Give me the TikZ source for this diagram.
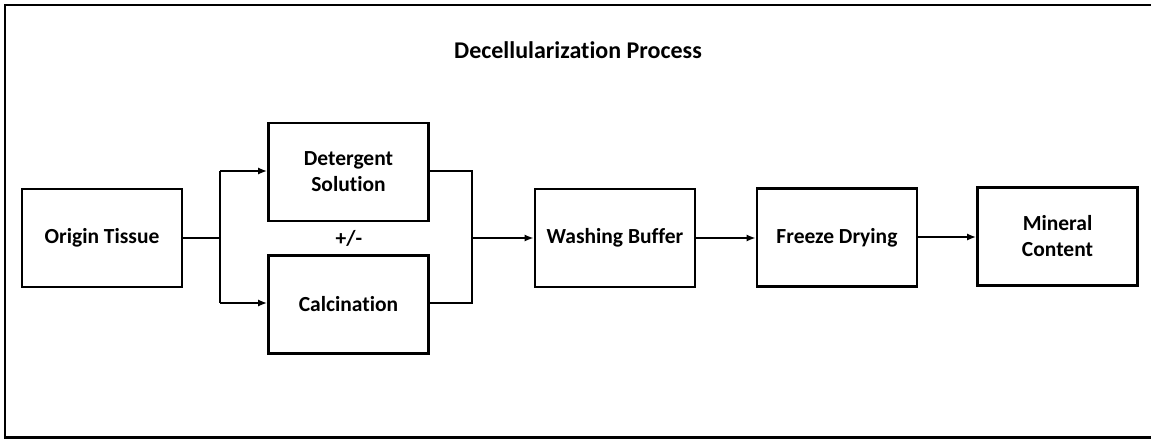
\documentclass[tikz,border=0pt]{standalone}
\usepackage{fontspec}
\setmainfont{Carlito}[Ligatures=NoCommon]
\usetikzlibrary{arrows.meta}
\begin{document}
\begin{tikzpicture}[x=1pt,y=-1pt,
  stage/.style={draw, line width=2.6pt, minimum width=160pt, minimum height=98pt,
    align=center, font=\fontsize{21.5}{26}\selectfont\bfseries, inner sep=0pt},
  link/.style={line width=2.3pt},
  flow/.style={line width=2.3pt, -{Latex[length=9pt,width=7pt]}}]
\useasboundingbox (0,0) rectangle (1151,440);
% outer frame, open on the right where the page ends
\draw[line width=2.4pt] (1151,5) -- (5,5) -- (5,437.5) -- (1151,437.5);
\node[font=\fontsize{24}{28}\selectfont\bfseries] (title) at (578,50) {Decellularization Process};
\node[stage] (origin) at (102,238) {Origin Tissue};
\node[stage] (deter) at (348.5,172) {Detergent\\Solution};
\node[stage] (calc) at (348.5,304.5) {Calcination};
\node[stage] (wash) at (615,238) {Washing Buffer};
\node[stage] (freeze) at (837,237.5) {Freeze Drying};
\node[stage] (mineral) at (1057.5,236.5) {Mineral\\Content};
\node[font=\fontsize{21.5}{26}\selectfont\bfseries] (pm) at (349,238) {+/-};
% split into the two parallel treatments
\coordinate (split) at (220,238);
\coordinate (splitT) at (220,171);
\coordinate (splitB) at (220,303);
\draw[link] (origin.east |- split) -- (split);
\draw[link] (splitT) -- (splitB);
\draw[flow] (splitT) -- (splitT -| deter.west);
\draw[flow] (splitB) -- (splitB -| calc.west);
% merge back into one stream
\coordinate (mergeT) at (472,171);
\coordinate (mergeB) at (472,303);
\coordinate (merge) at (472,238);
\draw[link] (mergeT -| deter.east) -- (mergeT) -- (mergeB) -- (mergeB -| calc.east);
\draw[flow] (merge) -- (merge -| wash.west);
\draw[flow] (wash.east |- 0,238) -- (freeze.west |- 0,238);
\draw[flow] (freeze.east |- 0,237) -- (mineral.west |- 0,237);
\end{tikzpicture}
\end{document}
